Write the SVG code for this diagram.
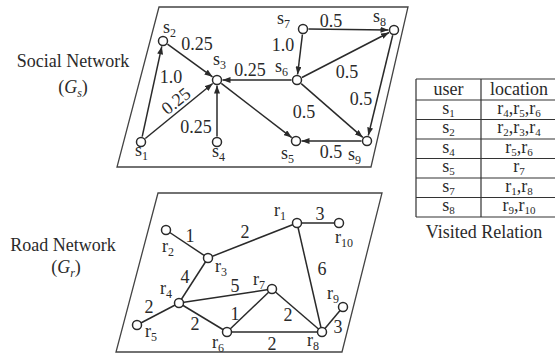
<svg xmlns="http://www.w3.org/2000/svg" width="555" height="354" viewBox="0 0 555 354">
<style>
text{font-family:"Liberation Serif","Times New Roman",serif;font-size:18px;fill:#2a2a2a}
.m{text-anchor:middle}
.sb{font-size:12px}
.tb{font-size:17px}
.tb .sb{font-size:11px}
.frame{fill:none;stroke:#444;stroke-width:1.3}
.e{stroke:#2a2a2a;stroke-width:1.5;fill:none}
.n{fill:#fff;stroke:#2a2a2a;stroke-width:1.5}
.t{stroke:#333;stroke-width:1.2;fill:none}
</style>
<defs>
<marker id="ar" markerUnits="userSpaceOnUse" markerWidth="8" markerHeight="6" refX="8" refY="3" orient="auto">
<path d="M0,0 L8,3 L0,6 z" fill="#2a2a2a"/>
</marker>
</defs>
<rect width="555" height="354" fill="#fff"/>

<g id="frames">
<polygon class="frame" points="159,7 408,7 371,167 117,167"/>
<polygon class="frame" points="158,193 382,193 342,352 116,352"/>
</g>

<g id="titles">
<text class="m" x="73" y="67">Social Network</text>
<text class="m" x="73" y="93">(<tspan font-style="italic">G</tspan><tspan class="sb" font-style="italic" dy="4">s</tspan><tspan dy="-4">)</tspan></text>
<text class="m" x="63" y="251">Road Network</text>
<text class="m" x="66" y="273">(<tspan font-style="italic">G</tspan><tspan class="sb" font-style="italic" dy="4">r</tspan><tspan dy="-4">)</tspan></text>
</g>

<g id="social-connectors">
<line class="e" x1="142.2" y1="136.6" x2="161.8" y2="46.4" marker-end="url(#ar)"/>
<line class="e" x1="145.3" y1="138.5" x2="212.7" y2="83.5" marker-end="url(#ar)"/>
<line class="e" x1="167.5" y1="44.2" x2="212.5" y2="76.8" marker-end="url(#ar)"/>
<line class="e" x1="217" y1="136.5" x2="217" y2="85.5" marker-end="url(#ar)"/>
<line class="e" x1="291.5" y1="80" x2="222.5" y2="80" marker-end="url(#ar)"/>
<line class="e" x1="221.3" y1="83.4" x2="291.7" y2="137.6" marker-end="url(#ar)"/>
<line class="e" x1="302.4" y1="34.5" x2="297.6" y2="74.5" marker-end="url(#ar)"/>
<line class="e" x1="308.5" y1="29.1" x2="388.5" y2="29.9" marker-end="url(#ar)"/>
<line class="e" x1="301.9" y1="77.5" x2="389.1" y2="32.5" marker-end="url(#ar)"/>
<line class="e" x1="392.7" y1="35.3" x2="368.3" y2="135.5" marker-end="url(#ar)"/>
<line class="e" x1="301.2" y1="83.6" x2="362.8" y2="137.4" marker-end="url(#ar)"/>
<line class="e" x1="361.5" y1="141" x2="301.5" y2="141" marker-end="url(#ar)"/>
</g>

<g id="social-edge-labels">
<text class="m" x="171" y="83">1.0</text>
<text class="m" transform="translate(176,101) rotate(-39)" y="6">0.25</text>
<text class="m" x="197" y="50">0.25</text>
<text class="m" x="196" y="133">0.25</text>
<text class="m" x="250" y="76">0.25</text>
<text class="m" x="283" y="51">1.0</text>
<text class="m" x="331" y="27">0.5</text>
<text class="m" x="347" y="78">0.5</text>
<text class="m" x="361" y="105">0.5</text>
<text class="m" x="304" y="118">0.5</text>
<text class="m" x="331" y="158">0.5</text>
</g>

<g id="s1"><circle class="n" cx="141" cy="142" r="4.5"/><text x="135" y="156">s<tspan class="sb" dy="4">1</tspan></text></g>
<g id="s2"><circle class="n" cx="163" cy="41" r="4.5"/><text x="163" y="33">s<tspan class="sb" dy="4">2</tspan></text></g>
<g id="s3"><circle class="n" cx="217" cy="80" r="4.5"/><text x="213" y="65">s<tspan class="sb" dy="4">3</tspan></text></g>
<g id="s4"><circle class="n" cx="217" cy="142" r="4.5"/><text x="212" y="157">s<tspan class="sb" dy="4">4</tspan></text></g>
<g id="s5"><circle class="n" cx="296" cy="141" r="4.5"/><text x="281" y="159">s<tspan class="sb" dy="4">5</tspan></text></g>
<g id="s6"><circle class="n" cx="297" cy="80" r="4.5"/><text x="275" y="72">s<tspan class="sb" dy="4">6</tspan></text></g>
<g id="s7"><circle class="n" cx="303" cy="29" r="4.5"/><text x="277" y="24">s<tspan class="sb" dy="4">7</tspan></text></g>
<g id="s8"><circle class="n" cx="394" cy="30" r="4.5"/><text x="373" y="22">s<tspan class="sb" dy="4">8</tspan></text></g>
<g id="s9"><circle class="n" cx="367" cy="141" r="4.5"/><text x="348" y="160">s<tspan class="sb" dy="4">9</tspan></text></g>

<g id="road-connectors">
<line class="e" x1="166" y1="230" x2="208" y2="258"/>
<line class="e" x1="208" y1="258" x2="297" y2="223"/>
<line class="e" x1="208" y1="258" x2="179" y2="303"/>
<line class="e" x1="179" y1="303" x2="137" y2="325"/>
<line class="e" x1="179" y1="303" x2="272" y2="289"/>
<line class="e" x1="179" y1="303" x2="227" y2="332"/>
<line class="e" x1="227" y1="332" x2="272" y2="289"/>
<line class="e" x1="272" y1="289" x2="322" y2="332"/>
<line class="e" x1="227" y1="332" x2="322" y2="332"/>
<line class="e" x1="297" y1="223" x2="322" y2="332"/>
<line class="e" x1="297" y1="223" x2="339" y2="223"/>
<line class="e" x1="322" y1="332" x2="343" y2="307"/>
</g>

<g id="road-edge-labels">
<text class="m" x="190" y="242">1</text>
<text class="m" x="245" y="238">2</text>
<text class="m" x="185" y="283">4</text>
<text class="m" x="235" y="292">5</text>
<text class="m" x="149" y="313">2</text>
<text class="m" x="195" y="330">2</text>
<text class="m" x="235" y="320">1</text>
<text class="m" x="288" y="321">2</text>
<text class="m" x="272" y="350">2</text>
<text class="m" x="320" y="220">3</text>
<text class="m" x="322" y="275">6</text>
<text class="m" x="338" y="333">3</text>
</g>

<g id="r1"><circle class="n" cx="297" cy="223" r="4.5"/><text x="274" y="216">r<tspan class="sb" dy="4">1</tspan></text></g>
<g id="r2"><circle class="n" cx="166" cy="230" r="4.5"/><text x="162" y="252">r<tspan class="sb" dy="4">2</tspan></text></g>
<g id="r3"><circle class="n" cx="208" cy="258" r="4.5"/><text x="215" y="272">r<tspan class="sb" dy="4">3</tspan></text></g>
<g id="r4"><circle class="n" cx="179" cy="303" r="4.5"/><text x="160" y="294">r<tspan class="sb" dy="4">4</tspan></text></g>
<g id="r5"><circle class="n" cx="137" cy="325" r="4.5"/><text x="145" y="337">r<tspan class="sb" dy="4">5</tspan></text></g>
<g id="r6"><circle class="n" cx="227" cy="332" r="4.5"/><text x="212" y="348">r<tspan class="sb" dy="4">6</tspan></text></g>
<g id="r7"><circle class="n" cx="272" cy="289" r="4.5"/><text x="253" y="285">r<tspan class="sb" dy="4">7</tspan></text></g>
<g id="r8"><circle class="n" cx="322" cy="332" r="4.5"/><text x="307" y="346">r<tspan class="sb" dy="4">8</tspan></text></g>
<g id="r9"><circle class="n" cx="343" cy="307" r="4.5"/><text x="327" y="299">r<tspan class="sb" dy="4">9</tspan></text></g>
<g id="r10"><circle class="n" cx="339" cy="223" r="4.5"/><text x="335" y="243">r<tspan class="sb" dy="4">10</tspan></text></g>

<g id="table">
<path class="t" d="M416,79 H556 M416,100 H556 M416,119.5 H556 M416,139 H556 M416,158.5 H556 M416,178 H556 M416,197.5 H556 M416,217 H556 M416,79 V217 M481,79 V217"/>
<text class="m" x="448.5" y="95" font-size="18">user</text>
<text class="m" x="519" y="95" font-size="18">location</text>
<g class="tb">
<text class="m" x="448.5" y="113.5">s<tspan class="sb" dy="3">1</tspan></text>
<text class="m" x="519" y="113.5">r<tspan class="sb" dy="3">4</tspan><tspan dy="-3">,r</tspan><tspan class="sb" dy="3">5</tspan><tspan dy="-3">,r</tspan><tspan class="sb" dy="3">6</tspan></text>
<text class="m" x="448.5" y="133">s<tspan class="sb" dy="3">2</tspan></text>
<text class="m" x="519" y="133">r<tspan class="sb" dy="3">2</tspan><tspan dy="-3">,r</tspan><tspan class="sb" dy="3">3</tspan><tspan dy="-3">,r</tspan><tspan class="sb" dy="3">4</tspan></text>
<text class="m" x="448.5" y="152.5">s<tspan class="sb" dy="3">4</tspan></text>
<text class="m" x="519" y="152.5">r<tspan class="sb" dy="3">5</tspan><tspan dy="-3">,r</tspan><tspan class="sb" dy="3">6</tspan></text>
<text class="m" x="448.5" y="172">s<tspan class="sb" dy="3">5</tspan></text>
<text class="m" x="519" y="172">r<tspan class="sb" dy="3">7</tspan></text>
<text class="m" x="448.5" y="191.5">s<tspan class="sb" dy="3">7</tspan></text>
<text class="m" x="519" y="191.5">r<tspan class="sb" dy="3">1</tspan><tspan dy="-3">,r</tspan><tspan class="sb" dy="3">8</tspan></text>
<text class="m" x="448.5" y="211">s<tspan class="sb" dy="3">8</tspan></text>
<text class="m" x="519" y="211">r<tspan class="sb" dy="3">9</tspan><tspan dy="-3">,r</tspan><tspan class="sb" dy="3">10</tspan></text>
</g>
<text class="m" x="484" y="238">Visited Relation</text>
</g>
</svg>
